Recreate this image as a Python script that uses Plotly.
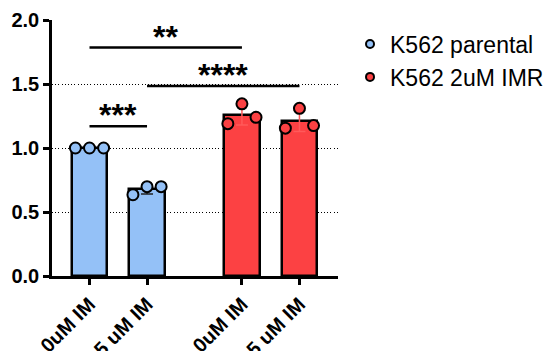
import numpy as np
import plotly.graph_objects as go

# Groups, conditions and replicate measurements
cell_lines = ["K562 parental", "K562 2uM IMR"]
conditions = ["0uM IM", "5 uM IM"]
parental_0 = [1.00, 1.00, 1.00]
parental_5 = [0.635, 0.698, 0.698]
imr_0 = [1.19, 1.345, 1.24]
imr_5 = [1.155, 1.31, 1.175]

# Significance brackets: (left bar, right bar, label, bracket height)
comparisons = [
    (0, 1, "***", 1.17),
    (0, 2, "**", 1.785),
    (1, 3, "****", 1.485),
]

replicates = [parental_0, parental_5, imr_0, imr_5]
bar_labels = conditions + conditions
positions = [0.0, 1.0, 2.65, 3.65]
colors = ["#94C1F7", "#FC4143"]
err_colors = ["#222222", "#FF5A5A"]
jitter = [-0.245, 0.0, 0.245]
font_family = "Liberation Sans, Arial, sans-serif"

fig = go.Figure()

for g, name in enumerate(cell_lines):
    idx = [2 * g, 2 * g + 1]
    means = [float(np.mean(replicates[i])) for i in idx]
    sds = [float(np.std(replicates[i], ddof=1)) for i in idx]
    fig.add_trace(go.Bar(
        x=[positions[i] for i in idx],
        y=means,
        width=0.62,
        marker=dict(color=colors[g], line=dict(color="black", width=2.5)),
        error_y=dict(type="data", array=sds, color=err_colors[g],
                     thickness=1.5, width=6),
        showlegend=False,
        hoverinfo="skip",
    ))

# individual replicate points
for g, name in enumerate(cell_lines):
    xs, ys = [], []
    for i in (2 * g, 2 * g + 1):
        for j, v in enumerate(replicates[i]):
            xs.append(positions[i] + jitter[j])
            ys.append(v)
    fig.add_trace(go.Scatter(
        x=xs, y=ys, mode="markers", name=name, showlegend=False,
        marker=dict(symbol="circle", size=11, color=colors[g],
                    line=dict(color="black", width=2)),
        cliponaxis=False,
    ))

# legend entries with smaller symbols
for g, name in enumerate(cell_lines):
    fig.add_trace(go.Scatter(
        x=[None], y=[None], mode="markers", name=name,
        marker=dict(symbol="circle", size=8, color=colors[g],
                    line=dict(color="black", width=2)),
    ))

for a, b, label, h in comparisons:
    fig.add_shape(type="line", x0=positions[a], x1=positions[b], y0=h, y1=h,
                  xref="x", yref="y", line=dict(color="black", width=2.5))
    fig.add_annotation(x=(positions[a] + positions[b]) / 2, y=h, text=label,
                       xref="x", yref="y", showarrow=False,
                       yanchor="bottom", yshift=-9,
                       font=dict(family=font_family, size=32, color="black",
                                 weight="bold"))

fig.update_layout(
    width=543, height=351,
    margin=dict(l=52, r=205, t=20, b=75, autoexpand=False),
    plot_bgcolor="white", paper_bgcolor="white",
    bargap=0, barmode="overlay",
    font=dict(family=font_family, color="black"),
    showlegend=True,
    legend=dict(x=1.042, y=0.99, xanchor="left", yanchor="top",
                font=dict(family=font_family, size=23, color="black"),
                bgcolor="rgba(0,0,0,0)"),
)

fig.update_xaxes(
    range=[-0.652, 4.32], automargin=False,
    tickvals=positions, ticktext=bar_labels, tickangle=-45,
    tickfont=dict(family=font_family, size=20, color="black", weight="bold"),
    showline=True, linecolor="black", linewidth=2.5,
    ticks="outside", ticklen=6, tickwidth=2.5, tickcolor="black",
    showgrid=False, zeroline=False,
)
fig.update_yaxes(
    range=[0, 2], automargin=False,
    tickvals=[0, 0.5, 1.0, 1.5, 2.0], tickformat=".1f",
    tickfont=dict(family=font_family, size=20, color="black", weight="bold"),
    showline=True, linecolor="black", linewidth=2.5,
    ticks="outside", ticklen=6, tickwidth=2.5, tickcolor="black",
    showgrid=True, gridcolor="black", gridwidth=1, griddash="1px,2.2px",
    zeroline=False,
)

fig.write_html("out.html")
